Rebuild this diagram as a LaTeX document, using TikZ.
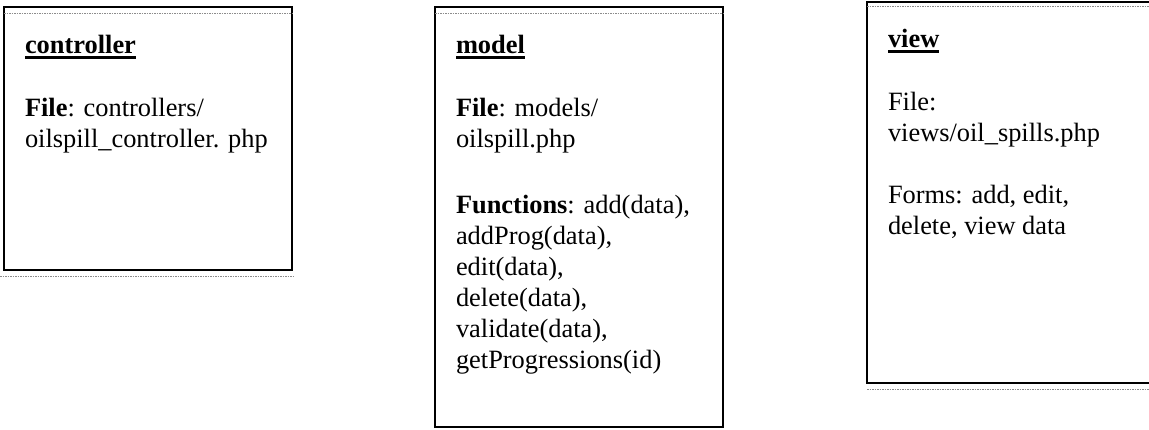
\documentclass[tikz,border=0pt]{standalone}
\usepackage{fontspec}
\setmainfont{Liberation Serif}
\begin{document}
\begin{tikzpicture}[x=1pt,y=-1pt,
  panel/.style={draw=black, line width=2.3pt, anchor=north west, inner sep=0pt, outer sep=0pt},
  txt/.style={anchor=base west, inner sep=0pt, outer sep=0pt, font=\fontsize{26.4}{31.3}\selectfont},
  rule/.style={draw=black!45, line width=1pt, dash pattern=on 1.5pt off 1pt},
  uline/.style={line width=2.2pt}]
\useasboundingbox (0,0) rectangle (1149,429);
\clip (0,0) rectangle (1149,429);

% frames
\node[panel, minimum width=288pt, minimum height=263pt] (ctrl) at (4,7) {};
\node[panel, minimum width=288pt, minimum height=420pt] (model) at (435,7) {};
\node[panel, minimum width=320pt, minimum height=381pt] (view) at (867,2) {};

% thin page rules around the frames
\draw[rule] ([yshift=-6pt]ctrl.north west) -- ([yshift=-6pt]ctrl.north east);
\draw[rule] ([xshift=-4pt,yshift=-6pt]ctrl.south west) -- ([xshift=2pt,yshift=-6pt]ctrl.south east);
\draw[rule] ([yshift=-6pt]model.north west) -- ([yshift=-6pt]model.north east);
\draw[rule] ([yshift=-4pt]view.north west) -- ([yshift=-4pt]view.north east);
\draw[rule] ([yshift=-6pt]view.south west) -- ([yshift=-6pt]view.south east);

% controller
\node[txt] (c-title) at (25,53) {\textbf{controller}};
\draw[uline] ([yshift=-4.5pt]c-title.base west) -- ([yshift=-4.5pt]c-title.base east);
\node[txt] (c-f1) at (25,116) {\textbf{File}: controllers/};
\node[txt] (c-f2) at (25,147.5) {oilspill\_controller. php};

% model
\node[txt] (m-title) at (456,53) {\textbf{model}};
\draw[uline] ([yshift=-4.5pt]m-title.base west) -- ([yshift=-4.5pt]m-title.base east);
\node[txt] (m-f1) at (456,116) {\textbf{File}: models/};
\node[txt] (m-f2) at (456,147.5) {oilspill.php};
\node[txt] (m-g1) at (456,213) {\textbf{Functions}: add(data),};
\node[txt] (m-g2) at (456,244) {addProg(data),};
\node[txt] (m-g3) at (456,275) {edit(data),};
\node[txt] (m-g4) at (456,306) {delete(data),};
\node[txt] (m-g5) at (456,337) {validate(data),};
\node[txt] (m-g6) at (456,368) {getProgressions(id)};

% view
\node[txt] (v-title) at (888,47) {\textbf{view}};
\draw[uline] ([yshift=-4.5pt]v-title.base west) -- ([yshift=-4.5pt]v-title.base east);
\node[txt] (v-f1) at (888,110) {File:};
\node[txt] (v-f2) at (888,141.5) {views/oil\_spills.php};
\node[txt] (v-g1) at (888,203) {Forms: add, edit,};
\node[txt] (v-g2) at (888,234) {delete, view data};
\end{tikzpicture}
\end{document}
